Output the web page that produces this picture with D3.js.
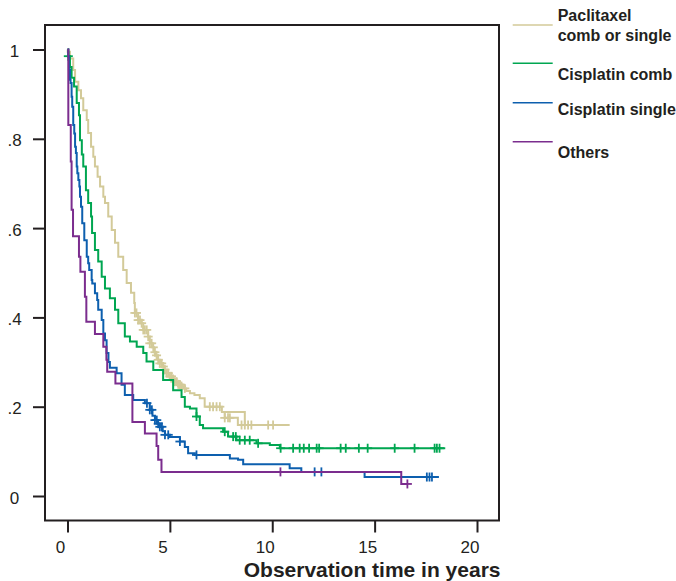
<!DOCTYPE html>
<html><head><meta charset="utf-8">
<script src="https://cdn.jsdelivr.net/npm/d3@7"></script>
<style>
html,body{margin:0;padding:0;background:#fff;}
svg{display:block;font-family:"Liberation Sans",Arial,sans-serif;}
</style></head>
<body><svg id="chart" width="676" height="581"></svg>
<script>
// ---------- data ----------
const seriesNames = ["Paclitaxel comb or single","Cisplatin comb","Cisplatin single","Others"];
const legendLabels = [["Paclitaxel","comb or single"],["Cisplatin comb"],["Cisplatin single"],["Others"]];
const xTicks = [0,5,10,15,20];
const xTickLabels = ["0","5","10","15","20"];
const yTicks = [0,0.2,0.4,0.6,0.8,1];
const yTickLabels = ["0",".2",".4",".6",".8","1"];
const xTitle = "Observation time in years";

// step points: [time of change, survival after change]
const paclitaxelSteps = [[0,1],[0.01,0.995],[0.12,0.98],[0.28,0.954],[0.37,0.928],[0.53,0.909],[0.66,0.891],[0.77,0.864],[0.94,0.842],[1.01,0.813],[1.15,0.782],[1.26,0.76],[1.34,0.738],[1.47,0.715],[1.59,0.693],[1.75,0.67],[1.83,0.656],[1.99,0.626],[2.16,0.596],[2.32,0.567],[2.48,0.536],[2.72,0.506],[2.89,0.477],[3.1,0.455],[3.26,0.432],[3.29,0.41],[3.45,0.394],[3.62,0.387],[3.7,0.372],[3.94,0.357],[4.02,0.342],[4.12,0.333],[4.22,0.322],[4.32,0.315],[4.42,0.305],[4.51,0.297],[4.62,0.29],[4.72,0.283],[4.84,0.275],[4.98,0.268],[5.1,0.262],[5.24,0.256],[5.38,0.25],[5.5,0.246],[5.65,0.241],[5.8,0.235],[5.98,0.23],[6.2,0.226],[6.46,0.219],[6.7,0.2],[7.54,0.188],[7.68,0.175],[8.32,0.159],[10.85,0.159]];
const paclitaxelExtra = [[7.54,0.188],[8.66,0.159]];
const paclitaxelCensor = [3.29,3.37,3.45,3.54,3.62,3.70,3.78,3.87,3.94,4.02,4.11,4.19,4.27,4.35,4.43,4.51,4.6,4.68,4.76,4.84,4.92,5.0,5.08,5.16,5.24,5.33,5.41,5.49,5.57,5.73,6.95,7.11,7.28,7.44,7.68,7.84,7.93,8.5,8.66,8.82,8.98,9.80,10.04];

const cisCombSteps = [[0,1],[0.04,0.985],[0.12,0.961],[0.2,0.937],[0.32,0.917],[0.45,0.88],[0.56,0.853],[0.61,0.797],[0.7,0.765],[0.77,0.738],[0.9,0.685],[1.01,0.656],[1.15,0.626],[1.2,0.589],[1.34,0.551],[1.5,0.525],[1.67,0.491],[1.83,0.465],[2.07,0.443],[2.32,0.417],[2.48,0.387],[2.8,0.357],[3.05,0.346],[3.38,0.334],[3.7,0.32],[3.86,0.301],[4.19,0.282],[4.67,0.26],[5.16,0.237],[5.57,0.222],[5.73,0.2],[5.98,0.196],[6.3,0.178],[6.46,0.159],[6.62,0.152],[7.6,0.144],[7.84,0.133],[8.25,0.125],[9.23,0.118],[9.88,0.114],[10.37,0.107],[18.45,0.107]];
const cisCombCensor = [0.04,6.3,7.68,8.09,8.22,8.41,8.66,8.9,9.31,10.41,11.02,11.34,11.54,11.8,12.17,12.29,13.34,13.59,14.23,14.66,15.98,16.95,17.93,18.04,18.17];

const cisSingleSteps = [[0,1],[0.04,0.985],[0.07,0.955],[0.12,0.932],[0.15,0.925],[0.2,0.894],[0.23,0.872],[0.28,0.831],[0.33,0.812],[0.37,0.782],[0.41,0.768],[0.45,0.738],[0.48,0.723],[0.53,0.708],[0.58,0.693],[0.61,0.67],[0.66,0.648],[0.72,0.611],[0.82,0.573],[0.94,0.536],[1.01,0.521],[1.06,0.506],[1.18,0.484],[1.21,0.476],[1.34,0.454],[1.45,0.439],[1.5,0.417],[1.67,0.394],[1.75,0.364],[1.83,0.349],[1.91,0.32],[2.0,0.3],[2.07,0.287],[2.4,0.275],[2.64,0.249],[2.8,0.226],[3.21,0.215],[3.78,0.208],[4.02,0.193],[4.15,0.18],[4.27,0.17],[4.4,0.162],[4.51,0.155],[4.65,0.145],[4.76,0.137],[5.0,0.132],[5.49,0.122],[5.73,0.11],[5.89,0.096],[6.22,0.092],[7.93,0.084],[8.33,0.081],[8.58,0.071],[10.85,0.062],[11.42,0.054],[14.51,0.0425],[18.14,0.0425]];
const cisSingleCensor = [3.88,4.02,4.12,4.27,4.36,4.43,4.51,4.61,4.76,4.92,5.49,6.3,12.07,12.4,17.55,17.68,17.8];

const othersSteps = [[0,1],[0.04,0.831],[0.16,0.749],[0.2,0.641],[0.27,0.582],[0.56,0.536],[0.63,0.502],[0.85,0.446],[0.92,0.39],[1.34,0.363],[1.75,0.334],[1.9,0.305],[1.94,0.278],[2.34,0.252],[3.17,0.166],[3.78,0.14],[4.35,0.112],[4.43,0.081],[4.59,0.054],[16.3,0.027],[16.6,0.027]];
const othersCensor = [10.4,16.6];

const colors = ["#d3ca99","#00a651","#0d5fae","#7b2d8e"];

// ---------- drawing ----------
const svg = d3.select("#chart");
const ink = "#231f20";
const x = d3.scaleLinear().domain([0,20]).range([67.5,477]);
const y = d3.scaleLinear().domain([0,1]).range([496,49.5]);
const box = {l:45, t:25, r:499, b:520.5};

svg.append("rect").attr("x",box.l).attr("y",box.t)
  .attr("width",box.r-box.l).attr("height",box.b-box.t)
  .attr("fill","none").attr("stroke",ink).attr("stroke-width",2);

const yAxis = svg.append("g").attr("transform",`translate(${box.l},0)`)
  .call(d3.axisLeft(y).tickValues(yTicks).tickSize(12).tickFormat((d,i)=>yTickLabels[i]));
yAxis.select(".domain").remove();
yAxis.selectAll(".tick line").attr("stroke",ink).attr("stroke-width",2);
yAxis.selectAll(".tick text").attr("x",14.5-box.l).attr("dy","0.42em")
  .attr("text-anchor","middle").attr("fill",ink)
  .style("font-size","17px").style("font-family","'Liberation Sans',Arial,sans-serif");

const xAxis = svg.append("g").attr("transform",`translate(0,${box.b})`)
  .call(d3.axisBottom(x).tickValues(xTicks).tickSize(12).tickFormat((d,i)=>xTickLabels[i]));
xAxis.select(".domain").remove();
xAxis.selectAll(".tick line").attr("stroke",ink).attr("stroke-width",2);
xAxis.selectAll(".tick text").attr("x",-7.5).attr("y",32.2).attr("dy",0)
  .attr("text-anchor","middle").attr("fill",ink)
  .style("font-size","17px").style("font-family","'Liberation Sans',Arial,sans-serif");

svg.append("text").attr("x",500.5).attr("y",577).attr("text-anchor","end")
  .attr("fill",ink).style("font-size","21px").style("font-weight","bold")
  .text(xTitle);

const stepLine = d3.line().x(d=>x(d[0])).y(d=>y(d[1])).curve(d3.curveStepAfter);
function sAt(steps,t){ let s=steps[0][1]; for(const p of steps){ if(p[0]<=t+1e-9) s=p[1]; else break; } return s; }

const series = [
  {steps:paclitaxelSteps, censor:paclitaxelCensor, extra:paclitaxelExtra},
  {steps:cisCombSteps, censor:cisCombCensor},
  {steps:cisSingleSteps, censor:cisSingleCensor},
  {steps:othersSteps, censor:othersCensor}
];

series.forEach((s,i)=>{
  const g = svg.append("g");
  g.append("path").attr("d",stepLine(s.steps)).attr("fill","none")
    .attr("stroke",colors[i]).attr("stroke-width",2);
  if(s.extra) g.append("path").attr("d",stepLine(s.extra)).attr("fill","none")
    .attr("stroke",colors[i]).attr("stroke-width",2);
  const marks = g.selectAll(".c").data(s.censor).enter().append("g")
    .attr("transform",t=>`translate(${x(t)},${y(sAt(s.steps,t))})`);
  marks.append("line").attr("x1",0).attr("x2",0).attr("y1",-4.5).attr("y2",4.5)
    .attr("stroke",colors[i]).attr("stroke-width",1.8);
  marks.append("line").attr("x1",-4.5).attr("x2",4.5).attr("y1",0).attr("y2",0)
    .attr("stroke",colors[i]).attr("stroke-width",1.8);
});

// legend
const legLineY = [25,63.3,102.7,141.7];
const legTextY = [[20.8,40.8],[79.8],[114.8],[157.5]];
legendLabels.forEach((lines,i)=>{
  svg.append("line").attr("x1",512.7).attr("x2",552.7)
    .attr("y1",legLineY[i]).attr("y2",legLineY[i])
    .attr("stroke",colors[i]).attr("stroke-width",1.6);
  lines.forEach((txt,j)=>{
    svg.append("text").attr("x",557.7).attr("y",legTextY[i][j])
      .attr("fill",ink).style("font-size","16px").style("font-weight","bold").text(txt);
  });
});
</script></body></html>
